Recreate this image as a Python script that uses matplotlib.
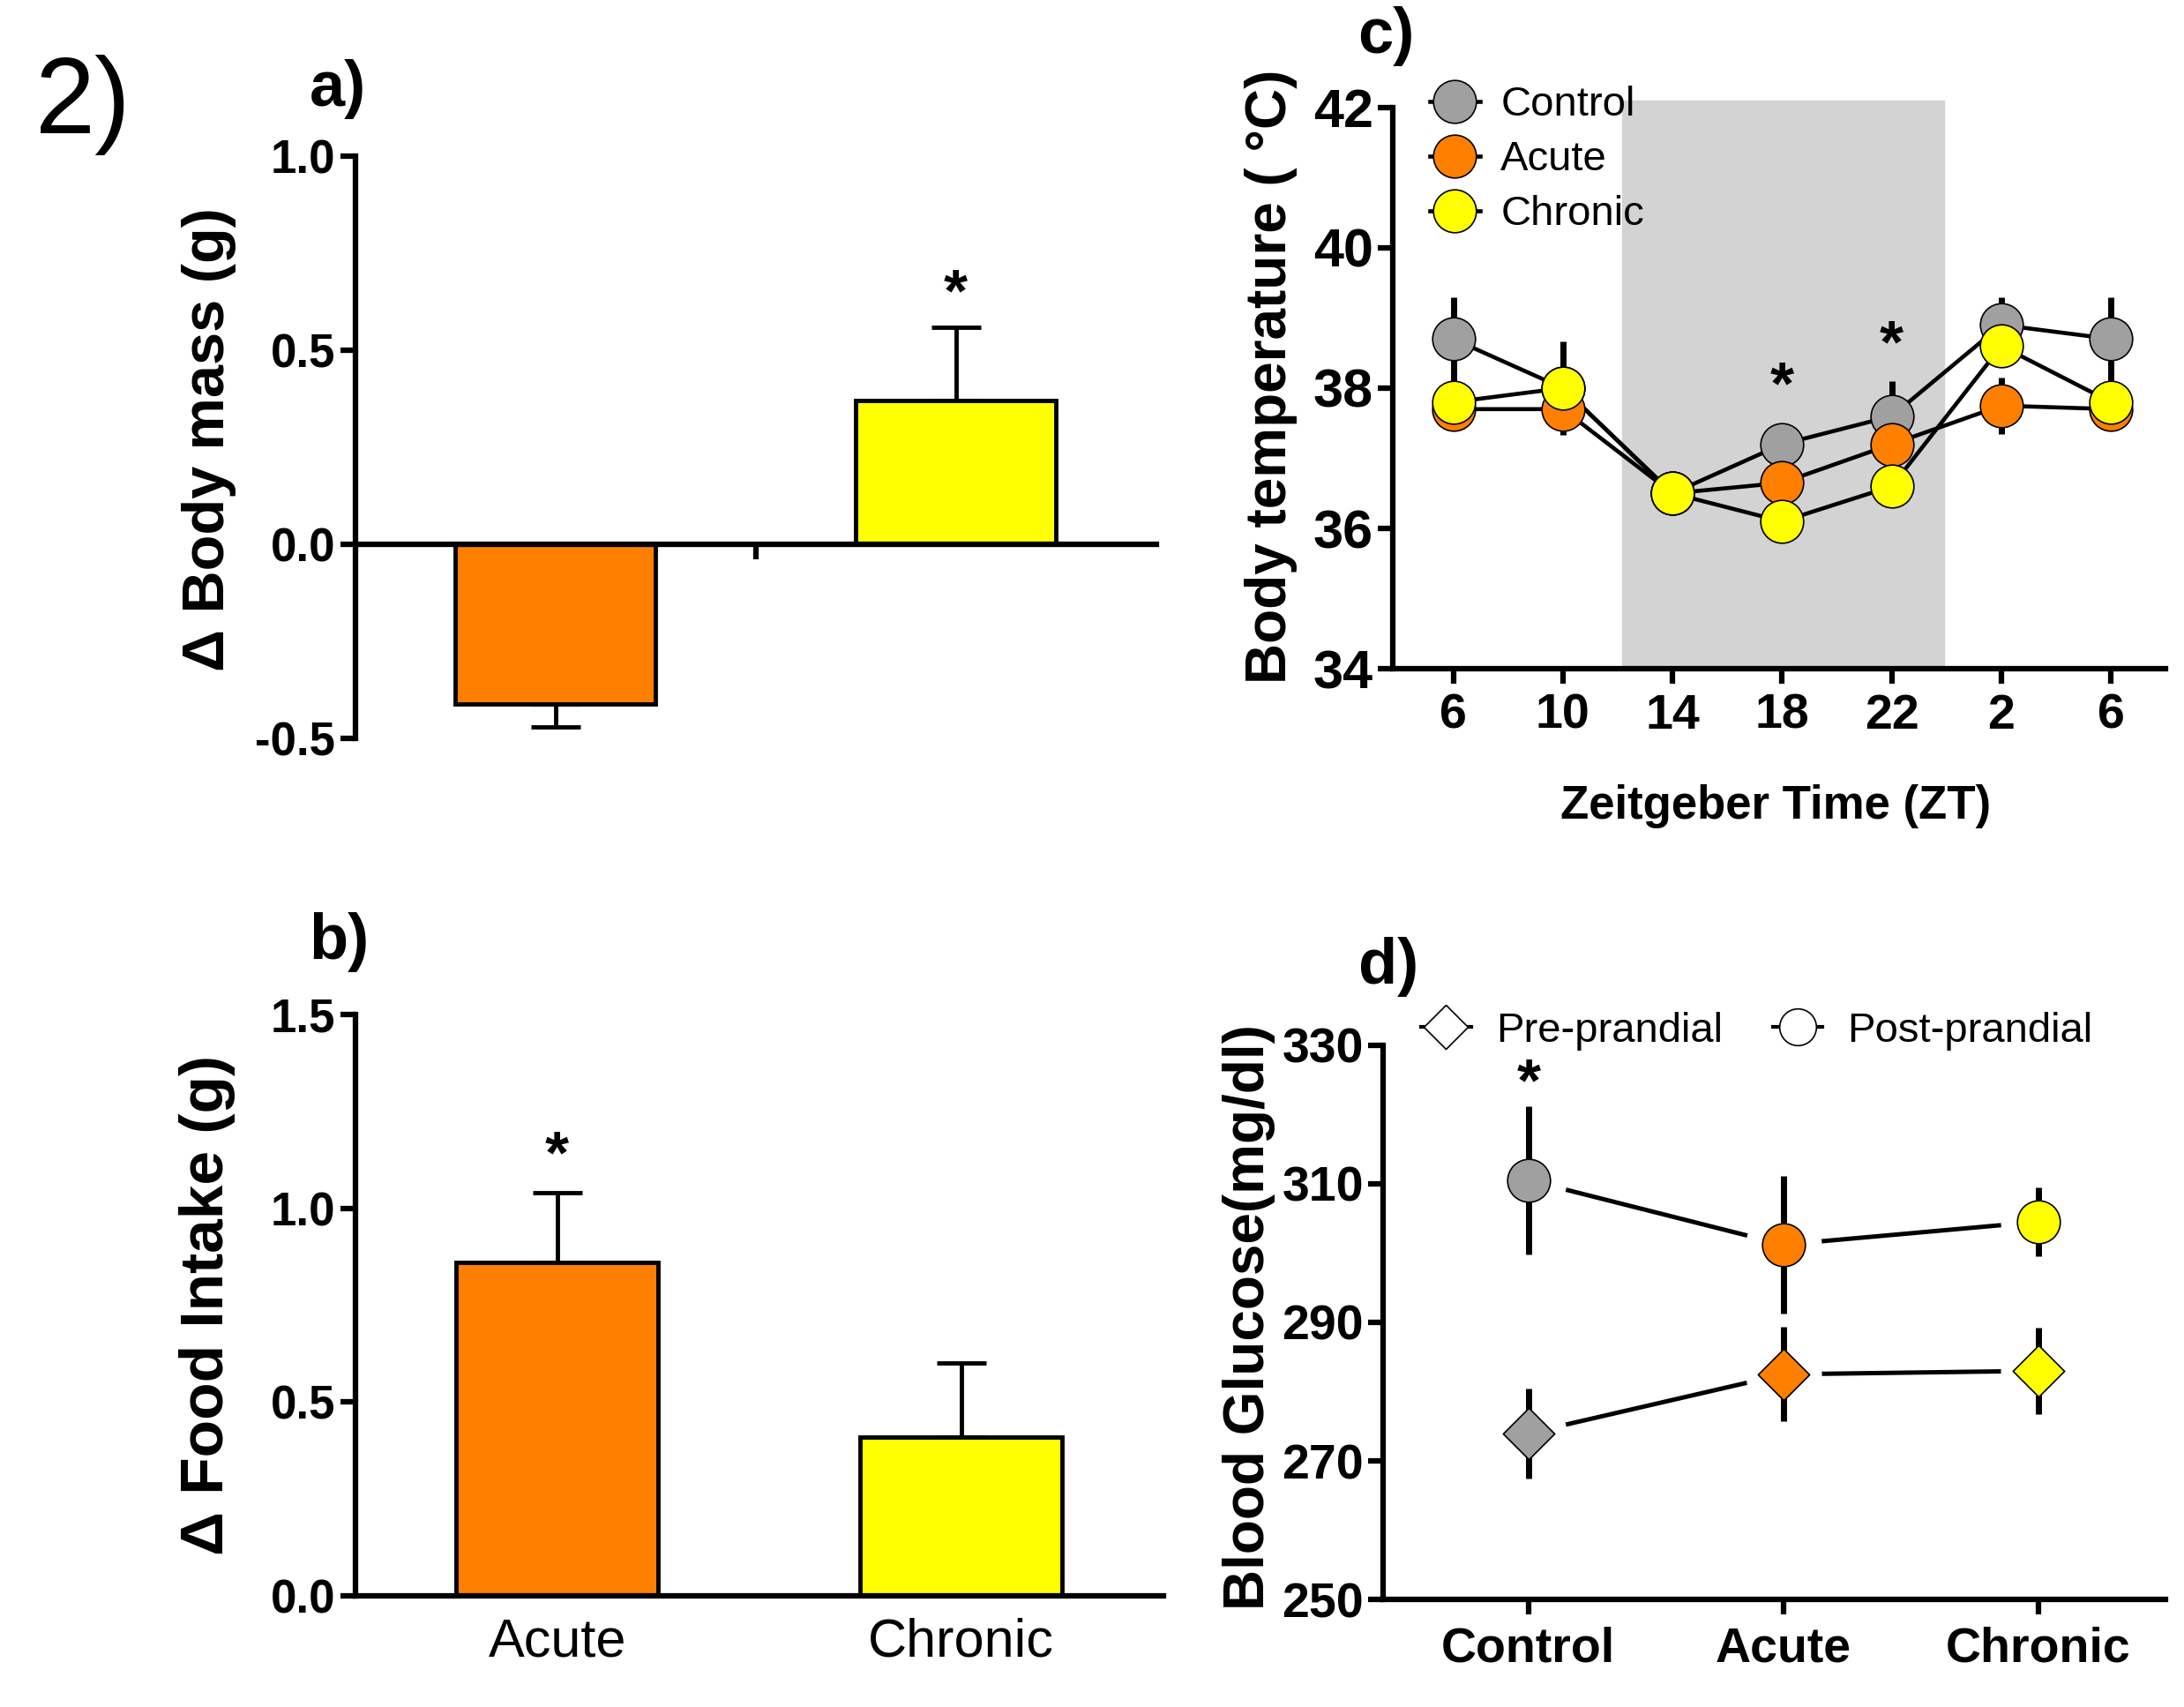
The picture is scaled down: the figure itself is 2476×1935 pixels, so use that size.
import numpy as np
import matplotlib.pyplot as plt
from matplotlib.lines import Line2D
from matplotlib.ticker import FormatStrFormatter

plt.rcParams['font.family'] = ['Liberation Sans', 'DejaVu Sans']
plt.rcParams['font.weight'] = 'bold'
plt.rcParams['axes.labelweight'] = 'bold'
plt.rcParams['axes.unicode_minus'] = False

# a) body mass change
groups = ['Acute', 'Chronic']
mass_mean = [-0.41, 0.37]
mass_sem = [0.06, 0.19]
# b) food intake change
food_mean = [0.86, 0.41]
food_sem = [0.18, 0.19]
# c) body temperature over the day
zt_labels = ['6', '10', '14', '18', '22', '2', '6']
temp_control = [38.7, 38.0, 36.5, 37.2, 37.6, 38.9, 38.7]
temp_control_sem = [0.6, 0.67, 0.2, 0.3, 0.5, 0.4, 0.6]
temp_acute = [37.7, 37.7, 36.5, 36.65, 37.2, 37.75, 37.7]
temp_acute_sem = [0.3, 0.3, 0.2, 0.3, 0.3, 0.4, 0.3]
temp_chronic = [37.8, 38.0, 36.5, 36.1, 36.6, 38.6, 37.8]
temp_chronic_sem = [0.3, 0.3, 0.2, 0.3, 0.3, 0.3, 0.3]
# d) blood glucose
glu_groups = ['Control', 'Acute', 'Chronic']
pre_mean = [274.0, 282.5, 283.0]
pre_sem = [6.5, 6.8, 6.2]
post_mean = [310.5, 301.2, 304.5]
post_sem = [10.7, 9.9, 5.0]

orange = '#FF7F00'
yellow = '#FFFF00'
grey = '#A0A0A0'
group_colors = [orange, yellow]
glu_colors = [grey, orange, yellow]

LW = 4.5
TL = 12

diam = [(0, 1), (1, 0), (0, -1), (-1, 0), (0, 1)]


def style_axes(ax):
    ax.spines['top'].set_visible(False)
    ax.spines['right'].set_visible(False)
    for s in ['left', 'bottom']:
        ax.spines[s].set_linewidth(LW)
    ax.tick_params(width=LW, length=TL, labelsize=38, pad=4)


fig = plt.figure(figsize=(24.76, 19.35), dpi=100)

# ---------- a)
ax = fig.add_axes([0.1626, 0.5673, 0.3667, 0.3413])
x = np.arange(len(groups))
lo = [s if m < 0 else 0 for m, s in zip(mass_mean, mass_sem)]
hi = [s if m >= 0 else 0 for m, s in zip(mass_mean, mass_sem)]
ax.bar(x, mass_mean, width=0.5, color=group_colors, edgecolor='black', linewidth=3.5, zorder=2)
ax.errorbar(x, mass_mean, yerr=[lo, hi], fmt='none', ecolor='black', elinewidth=3.5,
            capsize=20, capthick=3.5, zorder=1)
ax.text(1, mass_mean[1] + mass_sem[1] + 0.01, '*', ha='center', va='bottom', fontsize=50)
ax.set_xlim(-0.5, 1.5)
ax.set_ylim(-0.5, 1.0)
ax.set_yticks([-0.5, 0.0, 0.5, 1.0])
ax.yaxis.set_major_formatter(FormatStrFormatter('%.1f'))
ax.spines['bottom'].set_position(('data', 0))
ax.set_xticks([0.5])
ax.set_xticklabels([''])
style_axes(ax)
ax.set_ylabel('Δ Body mass (g)', fontsize=48)
ax.yaxis.set_label_coords(-0.148, 0.514)

# ---------- b)
ax = fig.add_axes([0.1626, 0.0653, 0.3700, 0.3404])
ax.bar(x, food_mean, width=0.5, color=group_colors, edgecolor='black', linewidth=3.5, zorder=2)
ax.errorbar(x, food_mean, yerr=[[0, 0], food_sem], fmt='none', ecolor='black', elinewidth=3.5,
            capsize=20, capthick=3.5, zorder=1)
ax.text(0, food_mean[0] + food_sem[0] + 0.02, '*', ha='center', va='bottom', fontsize=50)
ax.set_xlim(-0.5, 1.5)
ax.set_ylim(0, 1.5)
ax.set_yticks([0.0, 0.5, 1.0, 1.5])
ax.yaxis.set_major_formatter(FormatStrFormatter('%.1f'))
ax.set_xticks(x)
ax.set_xticklabels(groups, fontweight='normal')
style_axes(ax)
ax.tick_params(axis='x', length=0, labelsize=44, pad=18)
ax.set_ylabel('Δ Food Intake (g)', fontsize=50)
ax.yaxis.set_label_coords(-0.148, 0.50)

# ---------- c)
ax = fig.add_axes([0.6378, 0.6082, 0.3539, 0.3289])
xt = np.arange(len(zt_labels))
ax.axvspan(1.54, 4.48, ymin=0, ymax=1.012, color='#D3D3D3', zorder=0, clip_on=False)
series = [(temp_control, temp_control_sem, grey, 'Control'),
          (temp_acute, temp_acute_sem, orange, 'Acute'),
          (temp_chronic, temp_chronic_sem, yellow, 'Chronic')]
for m, s, c, lab in series:
    ax.plot(xt, m, color='black', lw=3.3, zorder=1)
    ax.errorbar(xt, m, yerr=s, fmt='none', ecolor='black', elinewidth=5, capsize=0, zorder=2)
for i, (m, s, c, lab) in enumerate(series):
    ax.plot(xt, m, ls='none', marker='o', ms=35, mfc=c, mec='black', mew=1.2, zorder=3 + i)
ax.text(3, temp_control[3] + temp_control_sem[3] + 0.1, '*', ha='center', va='bottom', fontsize=50)
ax.text(4, temp_control[4] + temp_control_sem[4] + 0.1, '*', ha='center', va='bottom', fontsize=50)
ax.set_xlim(-0.55, 6.5)
ax.set_ylim(34, 42)
ax.set_yticks([34, 36, 38, 40, 42])
ax.set_xticks(xt)
ax.set_xticklabels(zt_labels)
style_axes(ax)
ax.tick_params(axis='y', labelsize=44)
ax.tick_params(axis='x', labelsize=40, pad=8)
ax.set_ylabel('Body temperature ( °C)', fontsize=46)
ax.yaxis.set_label_coords(-0.123, 0.52)
ax.set_xlabel('Zeitgeber Time (ZT)', fontsize=38)
ax.xaxis.set_label_coords(0.495, -0.205)
handles = [Line2D([0], [0], color='black', lw=3.3, marker='o', ms=35, mfc=c, mec='black', mew=1.2)
           for _, _, c, _ in series]
leg = ax.legend(handles, [s[3] for s in series], loc='upper left', bbox_to_anchor=(0.026, 1.068),
                frameon=False, fontsize=34, handlelength=1.2, handletextpad=0.5,
                labelspacing=0.38, borderaxespad=0)
for t in leg.get_texts():
    t.set_fontweight('normal')

# ---------- d)
ax = fig.add_axes([0.6333, 0.0629, 0.3584, 0.3249])
xg = np.arange(len(glu_groups))
for m, s, mk, ms in [(pre_mean, pre_sem, diam, 42), (post_mean, post_sem, 'o', 35)]:
    ax.plot(xg, m, color='black', lw=3.6, zorder=1)
    ax.plot(xg, m, ls='none', marker='o', ms=62, mfc='white', mec='none', zorder=2)
    ax.errorbar(xg, m, yerr=s, fmt='none', ecolor='black', elinewidth=5, capsize=0, zorder=3)
    for j in range(len(xg)):
        ax.plot(xg[j], m[j], ls='none', marker=mk, ms=ms, mfc=glu_colors[j], mec='black',
                mew=1.2, zorder=4)
ax.text(0, post_mean[0] + post_sem[0] - 1.0, '*', ha='center', va='bottom', fontsize=50)
ax.set_xlim(-0.57, 2.5)
ax.set_ylim(250, 330)
ax.set_yticks([250, 270, 290, 310, 330])
ax.set_xticks(xg)
ax.set_xticklabels(glu_groups)
style_axes(ax)
ax.tick_params(axis='y', labelsize=40)
ax.tick_params(axis='x', labelsize=40, pad=10)
ax.set_ylabel('Blood Glucose(mg/dl)', fontsize=46)
ax.yaxis.set_label_coords(-0.137, 0.51)
handles = [Line2D([0], [0], color='black', lw=3, marker=diam, ms=36, mfc='white', mec='black', mew=1.2),
           Line2D([0], [0], color='black', lw=3, marker='o', ms=30, mfc='white', mec='black', mew=1.2)]
leg = ax.legend(handles, ['Pre-prandial', 'Post-prandial'], loc='upper left', bbox_to_anchor=(0.027, 1.09),
                frameon=False, fontsize=34, ncol=2, handlelength=1.2, handletextpad=0.6,
                columnspacing=1.2, borderaxespad=0)
for t in leg.get_texts():
    t.set_fontweight('normal')

# panel labels
fig.text(0.016, 0.922, '2)', fontsize=88, fontweight='normal', va='baseline')
fig.text(0.1416, 0.938, 'a)', fontsize=52, va='baseline')
fig.text(0.1416, 0.438, 'b)', fontsize=52, va='baseline')
fig.text(0.6218, 0.969, 'c)', fontsize=52, va='baseline')
fig.text(0.6218, 0.424, 'd)', fontsize=52, va='baseline')

fig.savefig('out.png', dpi=100)
